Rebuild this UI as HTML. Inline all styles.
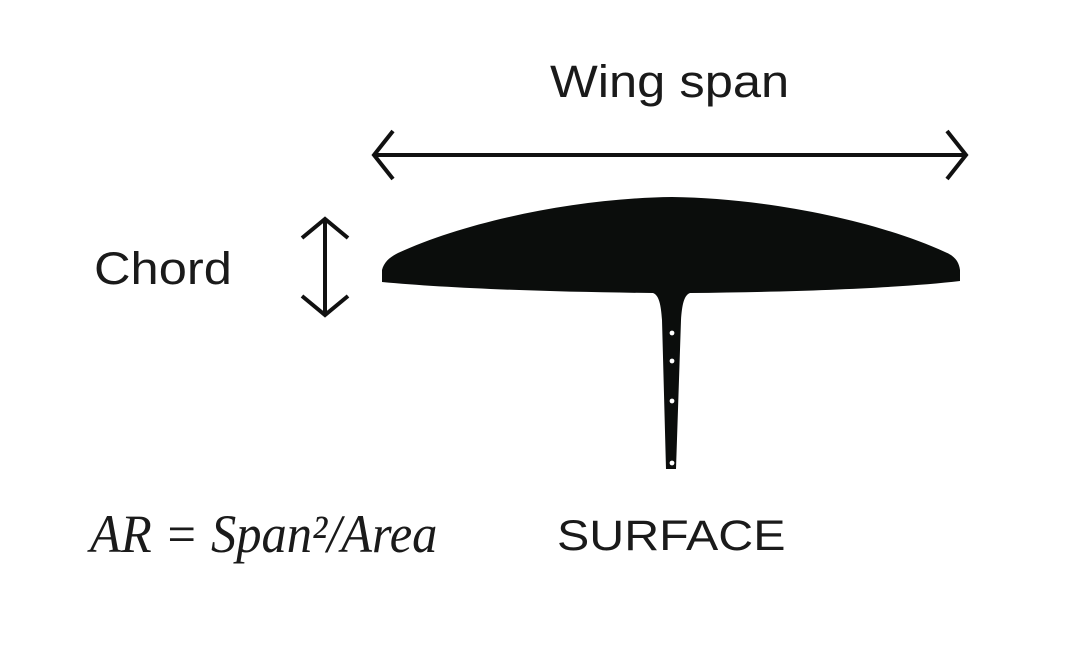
<!DOCTYPE html>
<html><head><style>
html,body{margin:0;padding:0;background:#fff;}
body{width:1080px;height:670px;position:relative;overflow:hidden;}
.t{position:absolute;font-family:"Liberation Sans",sans-serif;color:#1a1a1a;white-space:nowrap;transform:scaleX(1.125);transform-origin:left top;}
</style></head><body>
<svg width="1080" height="670" style="position:absolute;left:0;top:0">
<g stroke="#111" stroke-width="4" fill="none" stroke-linecap="butt" stroke-linejoin="miter">
<line x1="375" y1="155" x2="965" y2="155"/>
<polyline points="393,131 374,155 393,179"/>
<polyline points="947,131 966,155 947,179"/>
<line x1="325" y1="220" x2="325" y2="313"/>
<polyline points="302,238 325,219 348,238"/>
<polyline points="302,296 325,315 348,296"/>
</g>
<path fill="#0b0d0c" d="M382,282 L382,270 C384,262 390,257 398,253 C470,220 580,198 672,197 C765,198 875,220 945,252 C955,256 959,262 960,270 L960,281 C900,288 800,292 690,293 C684,295 682,305 681,320 L676,469 L666,469 L662,320 C661,305 659,295 653,293 C545,292 445,288 382,282 Z"/>
<g fill="#fff"><circle cx="672" cy="333" r="2.4"/><circle cx="672" cy="361" r="2.4"/><circle cx="672" cy="401" r="2.4"/><circle cx="672" cy="463" r="2.4"/></g>
</svg>
<div class="t" style="left:550px;top:56px;font-size:45px;">Wing span</div>
<div class="t" style="left:94px;top:243px;font-size:45px;">Chord</div>
<div class="t" style="left:557px;top:512px;font-size:43px;">SURFACE</div>
<div class="t" style="left:90px;top:503px;font-family:'Liberation Serif',serif;font-style:italic;font-size:54px;transform:scaleX(0.935);transform-origin:left top;">AR = Span²/Area</div>
</body></html>
